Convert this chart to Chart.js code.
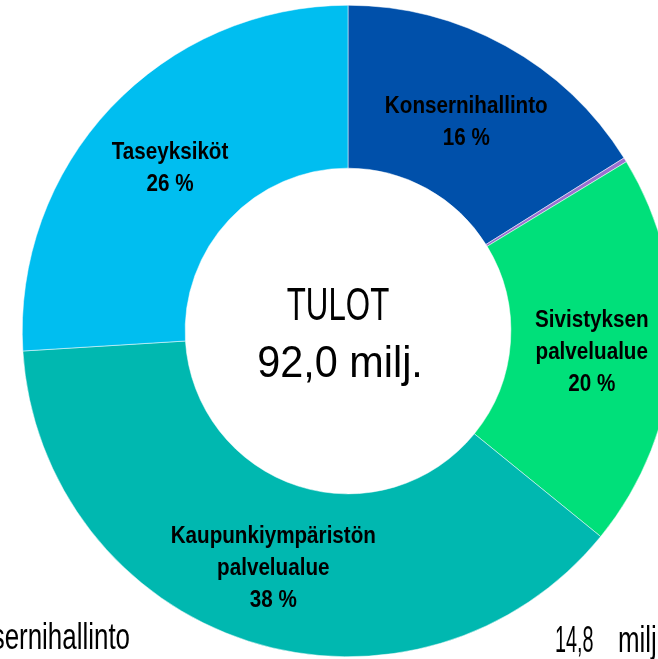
<!DOCTYPE html>
<html>
<head>
<meta charset="utf-8">
<script src="https://cdn.jsdelivr.net/npm/chart.js@4.4.1/dist/chart.umd.min.js"></script>
<style>
  html, body { margin: 0; padding: 0; background: #fff; overflow: hidden; }
  #wrap { position: absolute; left: 0; top: 0; width: 700px; height: 700px; }
</style>
</head>
<body>
<div id="wrap"><canvas id="tulot"></canvas></div>
<script>
// Data (milj. euroa)
const CATEGORIES = [
  ['Konsernihallinto'],
  [''],
  ['Sivistyksen', 'palvelualue'],
  ['Kaupunkiympäristön', 'palvelualue'],
  ['Taseyksiköt']
];
const VALUES = [14.8, 0.2, 18.0, 35.1, 23.9];
const PERCENT_LABELS = ['16 %', '', '20 %', '38 %', '26 %'];
const COLORS = ['#0050AA', '#9B6FD0', '#00E07A', '#00B8B0', '#00BEF0'];
const CENTER_LINES = ['TULOT', '92,0 milj.'];
const ROW_NAME = 'Konsernihallinto';
const ROW_VALUE = '14,8';
const ROW_UNIT = 'milj';

const FONT = '"Liberation Sans", Arial, sans-serif';

// draw text squeezed horizontally (the original uses a narrow typeface)
const fillNarrow = (ctx, text, x, y, sx, align) => {
  ctx.save();
  ctx.translate(x, y);
  ctx.scale(sx, 1);
  ctx.textAlign = align;
  ctx.fillText(text, 0, 0);
  ctx.restore();
};

// Labels inside the segments + centre text + the clipped table row
const labelPlugin = {
  id: 'labels',
  afterDatasetsDraw(chart) {
    const ctx = chart.ctx;
    const meta = chart.getDatasetMeta(0);
    ctx.save();
    ctx.fillStyle = '#000';
    ctx.textBaseline = 'middle';
    ctx.font = 'bold 24px ' + FONT;
    meta.data.forEach((arc, i) => {
      if (!PERCENT_LABELS[i]) return;
      const p = arc.getCenterPoint();
      const lines = CATEGORIES[i].concat(PERCENT_LABELS[i]);
      const lh = 32;
      const y0 = p.y + 5 - (lines.length - 1) * lh / 2;
      lines.forEach((t, k) => fillNarrow(ctx, t, p.x, y0 + k * lh, 0.86, 'center'));
    });

    // centre text
    const cx = (chart.chartArea.left + chart.chartArea.right) / 2;
    const cy = (chart.chartArea.top + chart.chartArea.bottom) / 2;
    ctx.textBaseline = 'alphabetic';
    ctx.font = '46px ' + FONT;
    fillNarrow(ctx, CENTER_LINES[0], cx - 10, cy - 11, 0.68, 'center');
    ctx.font = '45px ' + FONT;
    fillNarrow(ctx, CENTER_LINES[1], cx - 8, cy + 46, 0.92, 'center');

    // table row peeking in at the bottom
    ctx.font = '36px ' + FONT;
    fillNarrow(ctx, ROW_NAME, 130, 649, 0.72, 'right');
    fillNarrow(ctx, ROW_VALUE, 555, 652, 0.55, 'left');
    fillNarrow(ctx, ROW_UNIT, 618, 652, 0.72, 'left');
    ctx.restore();
  }
};

const createChart = () => {
  const el = document.getElementById('tulot');
  return new Chart(el, {
    type: 'doughnut',
    data: {
      labels: CATEGORIES.map(c => c.join(' ')),
      datasets: [{
        data: VALUES,
        backgroundColor: COLORS,
        borderColor: '#ffffff',
        borderWidth: 0.5
      }]
    },
    options: {
      responsive: true,
      maintainAspectRatio: false,
      animation: false,
      cutout: '50%',
      layout: { padding: { left: 22, top: 5, right: 26, bottom: 43 } },
      plugins: {
        legend: { display: false },
        tooltip: { enabled: false }
      }
    },
    plugins: [labelPlugin]
  });
};

document.addEventListener('DOMContentLoaded', () => {
  try {
    createChart();
  } catch (error) {
    console.error('Chart initialization failed:', error);
  }
});
</script>
</body>
</html>
